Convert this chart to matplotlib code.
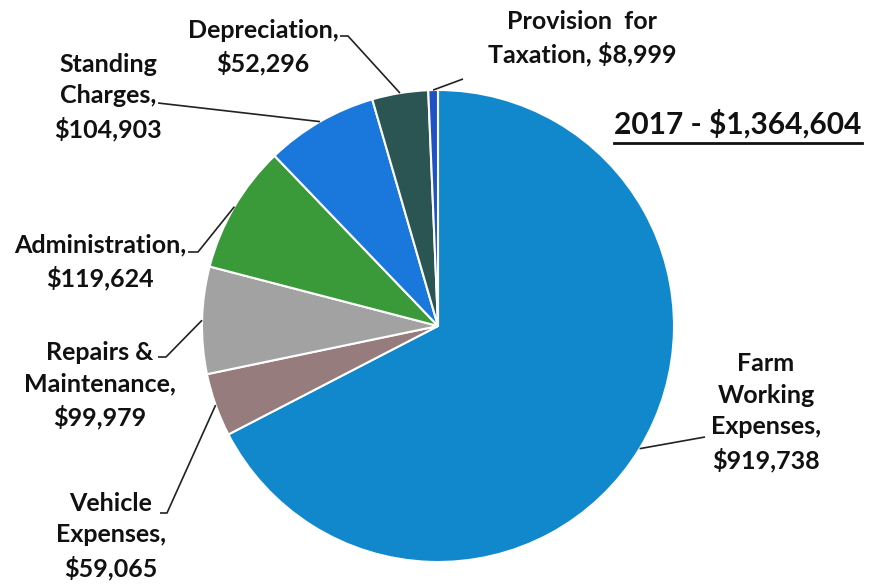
import matplotlib
matplotlib.use("Agg")
import matplotlib.pyplot as plt
import numpy as np

categories = ["Farm\nWorking\nExpenses,", "Vehicle\nExpenses,", "Repairs &\nMaintenance,",
              "Administration,", "Standing\nCharges,", "Depreciation,", "Provision  for\nTaxation,"]
values = [919738, 59065, 99979, 119624, 104903, 52296, 8999]
colors = ["#1188cc", "#967c7c", "#a2a2a2", "#3a9a3a", "#1a78dc", "#2b5553", "#2152c4"]
title = "2017 - $1,364,604"

W, H = 883, 584
fig = plt.figure(figsize=(W / 100, H / 100), dpi=100)
ax = fig.add_axes([0, 0, 1, 1])

cx, cy, R = 438, H - 326, 236
wedges, _ = ax.pie(values, colors=colors, startangle=90, counterclock=False,
                   center=(cx, cy), radius=R, frame=True,
                   wedgeprops=dict(edgecolor="white", linewidth=1.5))
ax.set_xlim(0, W)
ax.set_ylim(0, H)
ax.set_aspect("equal")
ax.axis("off")

def fmt(v):
    return "${:,}".format(v)

labels = []
for c, v in zip(categories, values):
    if c.startswith("Provision"):
        labels.append(c + " " + fmt(v))
    else:
        labels.append(c + "\n" + fmt(v))

# label layout (pixel coords, y from top): text center, elbow, end near text
layout = [
    dict(xy=(766, 412), elbow=(705, 437), end=(705, 437)),
    dict(xy=(111, 536), elbow=(167, 513), end=(160, 513)),
    dict(xy=(100, 385), elbow=(166, 357), end=(158, 357)),
    dict(xy=(100, 262), elbow=(198, 252), end=(188, 252)),
    dict(xy=(108, 97), elbow=(158, 103), end=(158, 103)),
    dict(xy=(263, 47), elbow=(348, 36), end=(340, 36)),
    dict(xy=(582, 38), elbow=(463, 79), end=(463, 79)),
]

font = dict(family=["Lato", "DejaVu Sans"], fontweight="bold", fontsize=18, color="#111111")
for w, lab, lay in zip(wedges, labels, layout):
    ang = np.deg2rad((w.theta1 + w.theta2) / 2)
    px, py = cx + R * np.cos(ang), cy + R * np.sin(ang)
    ex, ey = lay["elbow"]
    tx, ty = lay["end"]
    ax.plot([px, ex, tx], [py, H - ey, H - ty], color="#222222", lw=1.2, solid_capstyle="butt")
    ax.text(lay["xy"][0], H - lay["xy"][1], lab, ha="center", va="center",
            linespacing=1.45, **font)

ax.text(738, H - 124, title, ha="center", va="center",
        family=["Lato", "DejaVu Sans"], fontweight="bold", fontsize=21.5, color="#111111")
ax.plot([614, 862], [H - 143, H - 143], color="#111111", lw=2)

fig.savefig("out.png", dpi=100)
